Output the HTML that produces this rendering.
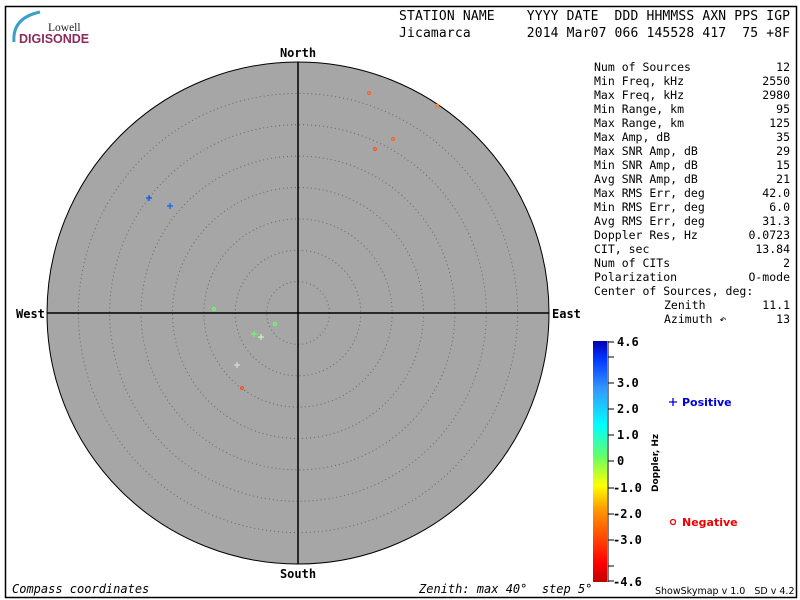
<!DOCTYPE html>
<html><head><meta charset="utf-8"><style>
html,body{margin:0;padding:0;background:#fff;width:800px;height:600px;overflow:hidden}
svg text{font-family:"DejaVu Sans Mono","Liberation Mono",monospace}
</style></head><body>
<svg width="800" height="600" viewBox="0 0 800 600" xmlns="http://www.w3.org/2000/svg">
<defs>
<linearGradient id="cb" x1="0" y1="1" x2="0" y2="0">
<stop offset="0" stop-color="#c00000"/>
<stop offset="0.08" stop-color="#ff0000"/>
<stop offset="0.3" stop-color="#ff9900"/>
<stop offset="0.4" stop-color="#ffff00"/>
<stop offset="0.52" stop-color="#66ff66"/>
<stop offset="0.65" stop-color="#00ffff"/>
<stop offset="0.8" stop-color="#3399ff"/>
<stop offset="0.93" stop-color="#0033ff"/>
<stop offset="1" stop-color="#0000aa"/>
</linearGradient>
</defs>
<rect x="5.5" y="6.5" width="791" height="591" fill="#fff" stroke="#000" stroke-width="1.5"/>
<!-- logo -->
<path d="M14 42 Q12 18 40 12" fill="none" stroke="#3aa0c8" stroke-width="3"/>
<text x="48" y="31" font-size="11.5" fill="#222" style="font-family:'Liberation Serif',serif">Lowell</text>
<text x="19" y="43" font-size="12.5" font-weight="bold" fill="#8e2a58" style="font-family:'Liberation Sans',sans-serif">DIGISONDE</text>
<!-- header -->
<text x="399" y="20" font-size="13" fill="#000" xml:space="preserve" textLength="391" lengthAdjust="spacing">STATION NAME    YYYY DATE  DDD HHMMSS AXN PPS IGP</text>
<text x="399" y="37" font-size="13" fill="#000" xml:space="preserve" textLength="391" lengthAdjust="spacing">Jicamarca       2014 Mar07 066 145528 417  75 +8F</text>
<!-- polar -->
<circle cx="298" cy="313" r="251" fill="#a6a6a6" stroke="#000" stroke-width="1"/>
<g fill="none" stroke="#666" stroke-width="1" stroke-dasharray="1,3">
<circle cx="298" cy="313" r="31.4"/><circle cx="298" cy="313" r="62.8"/><circle cx="298" cy="313" r="94.1"/>
<circle cx="298" cy="313" r="125.5"/><circle cx="298" cy="313" r="156.9"/><circle cx="298" cy="313" r="188.3"/>
<circle cx="298" cy="313" r="219.6"/>
</g>
<line x1="298" y1="62" x2="298" y2="564" stroke="#000" stroke-width="1.5"/>
<line x1="47" y1="313" x2="549" y2="313" stroke="#000" stroke-width="1.5"/>
<text x="298" y="57" font-size="12" font-weight="bold" text-anchor="middle">North</text>
<text x="298" y="578" font-size="12" font-weight="bold" text-anchor="middle">South</text>
<text x="16" y="318" font-size="12" font-weight="bold">West</text>
<text x="552" y="318" font-size="12" font-weight="bold">East</text>
<!-- points -->
<g fill="none" stroke-width="1.2">
<circle cx="369" cy="93" r="1.5" stroke="#ff6020"/>
<circle cx="437" cy="106" r="1.5" stroke="#ff8020"/>
<circle cx="393" cy="139" r="1.5" stroke="#ff6020"/>
<circle cx="375" cy="149" r="1.5" stroke="#ff5020"/>
<circle cx="214" cy="309" r="1.5" stroke="#66ff66"/>
<circle cx="275" cy="324" r="1.5" stroke="#66ff66"/>
<circle cx="242" cy="388" r="1.5" stroke="#ff5020"/>
<path d="M146 198h6M149 195v6" stroke="#0055ff"/>
<path d="M167 206h6M170 203v6" stroke="#0066ff"/>
<path d="M251 334h6M254 331v6" stroke="#66ff66"/>
<path d="M258 337h6M261 334v6" stroke="#bbffbb"/>
<path d="M234 365h6M237 362v6" stroke="#ddddcc"/>
</g>
<!-- stats -->
<g font-size="11.5" fill="#000" xml:space="preserve">
<text x="594" y="71">Num of Sources</text><text x="790" y="71" text-anchor="end">12</text>
<text x="594" y="85">Min Freq, kHz</text><text x="790" y="85" text-anchor="end">2550</text>
<text x="594" y="99">Max Freq, kHz</text><text x="790" y="99" text-anchor="end">2980</text>
<text x="594" y="113">Min Range, km</text><text x="790" y="113" text-anchor="end">95</text>
<text x="594" y="127">Max Range, km</text><text x="790" y="127" text-anchor="end">125</text>
<text x="594" y="141">Max Amp, dB</text><text x="790" y="141" text-anchor="end">35</text>
<text x="594" y="155">Max SNR Amp, dB</text><text x="790" y="155" text-anchor="end">29</text>
<text x="594" y="169">Min SNR Amp, dB</text><text x="790" y="169" text-anchor="end">15</text>
<text x="594" y="183">Avg SNR Amp, dB</text><text x="790" y="183" text-anchor="end">21</text>
<text x="594" y="197">Max RMS Err, deg</text><text x="790" y="197" text-anchor="end">42.0</text>
<text x="594" y="211">Min RMS Err, deg</text><text x="790" y="211" text-anchor="end">6.0</text>
<text x="594" y="225">Avg RMS Err, deg</text><text x="790" y="225" text-anchor="end">31.3</text>
<text x="594" y="239">Doppler Res, Hz</text><text x="790" y="239" text-anchor="end">0.0723</text>
<text x="594" y="253">CIT, sec</text><text x="790" y="253" text-anchor="end">13.84</text>
<text x="594" y="267">Num of CITs</text><text x="790" y="267" text-anchor="end">2</text>
<text x="594" y="281">Polarization</text><text x="790" y="281" text-anchor="end">O-mode</text>
<text x="594" y="295">Center of Sources, deg:</text>
<text x="664" y="309">Zenith</text><text x="790" y="309" text-anchor="end">11.1</text>
<text x="664" y="323">Azimuth ↶</text><text x="790" y="323" text-anchor="end">13</text>
</g>
<!-- colorbar -->
<rect x="593" y="341" width="14" height="241" fill="url(#cb)"/>
<line x1="608" y1="341" x2="608" y2="582" stroke="#000"/>
<g stroke="#000">
<line x1="608" y1="342" x2="614" y2="342"/><line x1="608" y1="357" x2="614" y2="357"/>
<line x1="608" y1="383" x2="614" y2="383"/><line x1="608" y1="409" x2="614" y2="409"/>
<line x1="608" y1="435" x2="614" y2="435"/><line x1="608" y1="461" x2="614" y2="461"/>
<line x1="608" y1="488" x2="614" y2="488"/><line x1="608" y1="514" x2="614" y2="514"/>
<line x1="608" y1="540" x2="614" y2="540"/><line x1="608" y1="566" x2="614" y2="566"/>
<line x1="608" y1="581" x2="614" y2="581"/>
</g>
<g font-size="12" font-weight="bold" style="font-family:'DejaVu Sans',sans-serif">
<text x="617" y="346">4.6</text><text x="617" y="387">3.0</text><text x="617" y="413">2.0</text>
<text x="617" y="439">1.0</text><text x="617" y="465">0</text><text x="613" y="492">-1.0</text>
<text x="613" y="518">-2.0</text><text x="613" y="544">-3.0</text><text x="613" y="586">-4.6</text>
</g>
<text transform="translate(658,492) rotate(-90)" font-size="9" font-weight="bold" style="font-family:'DejaVu Sans',sans-serif">Doppler, Hz</text>
<path d="M669 402h8M673 398v8" stroke="#0000dd" stroke-width="1.3"/>
<text x="682" y="406" font-size="11" font-weight="bold" fill="#0000dd" style="font-family:'DejaVu Sans',sans-serif">Positive</text>
<circle cx="673" cy="522" r="2.5" fill="none" stroke="#ee0000" stroke-width="1.3"/>
<text x="682" y="526" font-size="11" font-weight="bold" fill="#ee0000" style="font-family:'DejaVu Sans',sans-serif">Negative</text>
<!-- footer -->
<text x="12" y="593" font-size="12" font-style="italic">Compass coordinates</text>
<text x="419" y="593" font-size="12" font-style="italic" xml:space="preserve">Zenith: max 40°  step 5°</text>
<text x="655" y="594" font-size="9.5" style="font-family:'DejaVu Sans',sans-serif" xml:space="preserve">ShowSkymap v 1.0   SD v 4.2</text>
</svg>
</body></html>
